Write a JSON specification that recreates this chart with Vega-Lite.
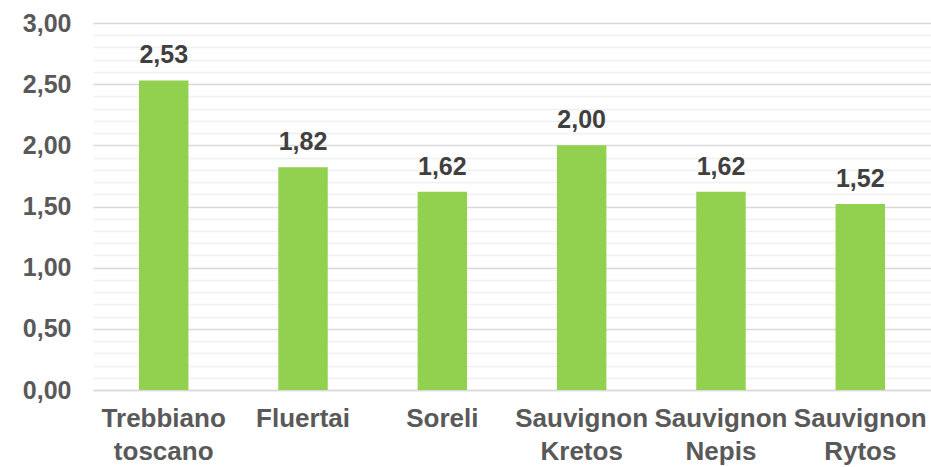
{
  "$schema": "https://vega.github.io/schema/vega-lite/v6.json",
  "width": 838,
  "height": 367,
  "autosize": "none",
  "padding": {"left": 93, "top": 23, "right": 0, "bottom": 77},
  "background": "white",
  "config": {"view": {"stroke": null}, "font": "Liberation Sans",
    "locale": {"number": {"decimal": ",", "thousands": ".", "grouping": [3], "currency": ["", " €"]}}},
  "data": {"values": [
    {"cultivar": "Trebbiano toscano", "value": 2.53},
    {"cultivar": "Fluertai", "value": 1.82},
    {"cultivar": "Soreli", "value": 1.62},
    {"cultivar": "Sauvignon Kretos", "value": 2.00},
    {"cultivar": "Sauvignon Nepis", "value": 1.62},
    {"cultivar": "Sauvignon Rytos", "value": 1.52}
  ]},
  "encoding": {
    "x": {"field": "cultivar", "type": "nominal", "sort": null,
      "scale": {"paddingInner": 0.645, "paddingOuter": 0.33},
      "axis": {"title": null, "labelAngle": 0, "ticks": false, "domain": true, "domainColor": "#d9d9d9", "domainWidth": 1.5,
        "labelExpr": "split(datum.label, ' ')", "labelFont": "Liberation Sans", "labelFontSize": 26, "labelFontWeight": "bold",
        "labelColor": "#595959", "labelPadding": 15, "labelLineHeight": 33, "labelBaseline": "top", "labelOverlap": false}}
  },
  "layer": [
    {
      "mark": {"type": "bar", "opacity": 0},
      "encoding": {
        "y": {"field": "value", "type": "quantitative", "scale": {"domain": [0, 3], "nice": false},
          "axis": {"orient": "right", "title": null, "labels": false, "ticks": false, "domain": false, "grid": true,
            "gridColor": "#f0f0f0", "gridWidth": 1.5,
            "values": [0.1,0.2,0.3,0.4,0.6,0.7,0.8,0.9,1.1,1.2,1.3,1.4,1.6,1.7,1.8,1.9,2.1,2.2,2.3,2.4,2.6,2.7,2.8,2.9]}}
      }
    },
    {
      "mark": {"type": "bar", "color": "#92d050"},
      "encoding": {
        "y": {"field": "value", "type": "quantitative", "scale": {"domain": [0, 3], "nice": false},
          "axis": {"orient": "left", "title": null, "ticks": false, "domain": false, "grid": true,
            "gridColor": "#d9d9d9", "gridWidth": 1.5, "values": [0, 0.5, 1, 1.5, 2, 2.5, 3], "format": ".2f",
            "labelFont": "Liberation Sans", "labelFontSize": 25, "labelFontWeight": "bold", "labelColor": "#595959", "labelPadding": 22}}
      }
    },
    {
      "mark": {"type": "text", "baseline": "alphabetic", "dy": -17, "fontSize": 25, "fontWeight": "bold", "color": "#404040", "font": "Liberation Sans"},
      "encoding": {
        "y": {"field": "value", "type": "quantitative", "axis": null},
        "text": {"field": "value", "type": "quantitative", "format": ".2f"}
      }
    }
  ],
  "resolve": {"axis": {"y": "independent"}}
}
